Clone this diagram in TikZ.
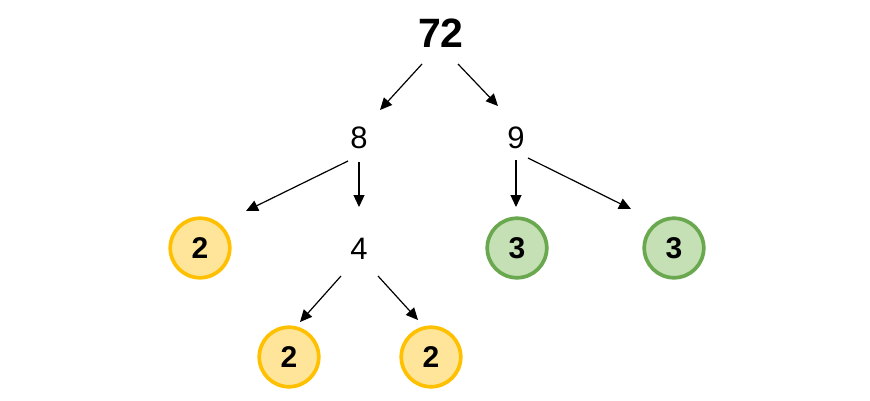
\documentclass[tikz,border=0pt]{standalone}
\usepackage{fontspec}
\setmainfont{Liberation Sans}
\definecolor{leafGold}{HTML}{FFC000}
\definecolor{leafGoldLight}{HTML}{FFE599}
\definecolor{leafGreen}{HTML}{6AA84F}
\definecolor{leafGreenLight}{HTML}{C5E0B4}
\usetikzlibrary{arrows.meta, calc}

\begin{document}
\begin{tikzpicture}[
  x=1pt, y=-1pt,
  num/.style={inner sep=0pt, font=\fontsize{31}{31}\selectfont},
  leaf/.style={circle, minimum size=59.5pt, inner sep=0pt, line width=3.7pt,
    font=\fontsize{30}{30}\selectfont\bfseries},
  gold/.style={leaf, draw=leafGold, fill=leafGoldLight},
  green/.style={leaf, draw=leafGreen, fill=leafGreenLight},
  arr/.style={-{Triangle[length=12pt, width=11pt]}, line width=1.2pt}]
  \useasboundingbox (0,0) rectangle (870,400);
  \node[num, font=\fontsize{41}{41}\selectfont\bfseries] (top) at (441,33) {72};
  \node[num] (n8) at (359,138) {8};
  \node[num] (n9) at (516,138) {9};
  \node[gold] (l2) at (200,248) {2};
  \node[num] (n4) at (359,249) {4};
  \node[green] (g3a) at (517,248) {3};
  \node[green] (g3b) at (674,248) {3};
  \node[gold] (l2b) at (289,357) {2};
  \node[gold] (l2c) at (431,357) {2};
  \draw[arr] ($(top)+(-19,31)$) -- ($(n8)+(21,-28)$);
  \draw[arr] ($(top)+(17,31)$) -- ($(n9)+(-18,-32)$);
  \draw[arr] ($(n8)+(-11,23)$) -- ($(l2)+(46,-37)$);
  \draw[arr] ($(n8)+(0,24)$) -- ($(n4)+(0,-42)$);
  \draw[arr] ($(n9)+(0,22)$) -- ($(g3a)+(-1,-41)$);
  \draw[arr] ($(n9)+(12,20)$) -- ($(g3b)+(-43,-39)$);
  \draw[arr] ($(n4)+(-18,27)$) -- ($(l2b)+(11,-35)$);
  \draw[arr] ($(n4)+(19,27)$) -- ($(l2c)+(-13,-37)$);
\end{tikzpicture}
\end{document}
